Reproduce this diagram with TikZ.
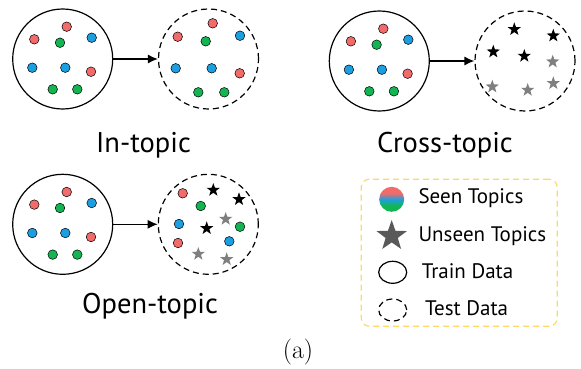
\documentclass[tikz,border=0pt]{standalone}
\usepackage{fontspec}
\newfontfamily\topicfont{PT Sans}
\usetikzlibrary{arrows.meta,shapes.geometric,positioning}

\definecolor{topicred}{HTML}{F26B6B}
\definecolor{topicblue}{HTML}{1C9FE0}
\definecolor{topicgreen}{HTML}{13B552}
\definecolor{unseengray}{HTML}{7F7F7F}
\definecolor{legendyellow}{HTML}{FFD966}

% red on top, blue in the middle, green at the bottom
\pgfdeclareverticalshading{seenshade}{100bp}{color(0bp)=(topicgreen); color(37bp)=(topicgreen);
  color(50bp)=(topicblue); color(62bp)=(topicred); color(100bp)=(topicred)}

\tikzset{
  traindata/.style={draw, circle, line width=1.2pt, minimum size=100pt, inner sep=0pt},
  testdata/.style={traindata, dash pattern=on 6pt off 4pt},
  seendot/.style={draw=black, line width=0.5pt, fill=#1},
  unseen/.style={star, star points=5, star point ratio=2.5, fill=#1, inner sep=0pt, minimum size=14pt},
  caption/.style={font=\topicfont\fontsize{28.5}{32}\selectfont, anchor=base},
  legendtext/.style={font=\topicfont\fontsize{21}{24}\selectfont, anchor=base west},
  shift arrow/.style={-{Latex[length=10pt,width=9pt]}, line width=1.2pt},
}

\newcommand{\topicdot}[3]{\filldraw[seendot=#1] (#2,#3) circle (4.8pt);}
% the nine seen topics of every training set
\newcommand{\trainset}{%
  \topicdot{topicred}{4}{-32.3}
  \topicdot{topicred}{-28.4}{-19.7}
  \topicdot{topicgreen}{-2.7}{-16.3}
  \topicdot{topicblue}{29}{-21.3}
  \topicdot{topicblue}{-30.4}{8.7}
  \topicdot{topicblue}{2.6}{8.7}
  \topicdot{topicred}{28.3}{12.7}
  \topicdot{topicgreen}{-10}{30.3}
  \topicdot{topicgreen}{14.6}{30.3}}

\begin{document}
\begin{tikzpicture}[x=1pt, y=-1pt]
  \useasboundingbox (0,0) rectangle (581,369);

  % In-topic
  \node[traindata] (it-train) at (62.7,59) {};
  \node[testdata] (it-test) at (208.5,59) {};
  \draw[shift arrow] (it-train) -- (it-test);
  \begin{scope}[shift={(62.7,59)}]
    \trainset
  \end{scope}
  \begin{scope}[shift={(208.5,59)}]
    \topicdot{topicred}{4.2}{-35.7}
    \topicdot{topicred}{-30.8}{-22.3}
    \topicdot{topicgreen}{-2.8}{-17.7}
    \topicdot{topicblue}{31.5}{-23.3}
    \topicdot{topicblue}{-32.8}{9.3}
    \topicdot{topicblue}{3.2}{9.3}
    \topicdot{topicred}{31.2}{14.3}
    \topicdot{topicgreen}{-10.2}{33.3}
    \topicdot{topicgreen}{15.8}{33.3}
  \end{scope}
  \node[caption] (it-label) at (143.5,152.7) {In-topic};

  % Cross-topic
  \node[traindata] (ct-train) at (379.3,61) {};
  \node[testdata] (ct-test) at (525,61) {};
  \draw[shift arrow] (ct-train) -- (ct-test);
  \begin{scope}[shift={(379.3,61)}]
    \trainset
  \end{scope}
  \begin{scope}[shift={(525,61)}]
    \foreach \x/\y [count=\i] in {-10.7/-31.7, 28.3/-25.3, -31.7/-9.3, -0.7/-5}
      \node[unseen=black] (ct-b\i) at (\x,\y) {};
    \foreach \x/\y [count=\i] in {27.7/0.7, -32.7/25.7, 2.7/29, 28.3/22.3}
      \node[unseen=unseengray] (ct-g\i) at (\x,\y) {};
  \end{scope}
  \node[caption] (ct-label) at (445,152.7) {Cross-topic};

  % Open-topic
  \node[traindata] (ot-train) at (62.7,224.3) {};
  \node[testdata] (ot-test) at (208.3,224.3) {};
  \draw[shift arrow] (ot-train) -- (ot-test);
  \begin{scope}[shift={(62.7,224.3)}]
    \trainset
  \end{scope}
  \begin{scope}[shift={(208.3,224.3)}]
    \topicdot{topicred}{-25.6}{-31}
    \topicdot{topicgreen}{-7.6}{-18.3}
    \topicdot{topicblue}{-29.3}{-0.3}
    \topicdot{topicgreen}{31.7}{2.4}
    \topicdot{topicred}{-30.3}{18.7}
    \topicdot{topicblue}{21}{17}
    \foreach \x/\y [count=\i] in {5/-34.3, 30.7/-25, -1.6/4}
      \node[unseen=black] (ot-b\i) at (\x,\y) {};
    \foreach \x/\y [count=\i] in {17.4/-5.3, -10/29.7, 18.4/35}
      \node[unseen=unseengray] (ot-g\i) at (\x,\y) {};
  \end{scope}
  \node[caption] (ot-label) at (150,313) {Open-topic};

  % legend
  \node[draw=legendyellow, line width=1.2pt, dash pattern=on 6pt off 4pt, rounded corners=8pt,
        minimum width=196pt, minimum height=147pt] (legend) at (459.2,252.7) {};
  \node[circle, inner sep=0pt, minimum size=25pt, shading=seenshade] (seen-key) at (391.7,199.3) {};
  \node[unseen=black!65, minimum size=32pt] (unseen-key) at (391.7,236) {};
  \node[ellipse, draw, line width=1.2pt, minimum width=28pt, minimum height=22pt] (train-key) at (392.7,272.3) {};
  \node[ellipse, draw, line width=1.2pt, dash pattern=on 6pt off 4pt, minimum width=28pt,
        minimum height=22pt] (test-key) at (392.7,310) {};
  \node[legendtext] (seen-text) at (415,203.3) {Seen Topics};
  \node[legendtext] (unseen-text) at (415,241) {Unseen Topics};
  \node[legendtext] (train-text) at (418.3,278.3) {Train Data};
  \node[legendtext] (test-text) at (421.7,315.7) {Test Data};

  \node[font=\fontsize{26}{30}\selectfont, anchor=base] (sub-a) at (298,358) {(a)};
\end{tikzpicture}
\end{document}
